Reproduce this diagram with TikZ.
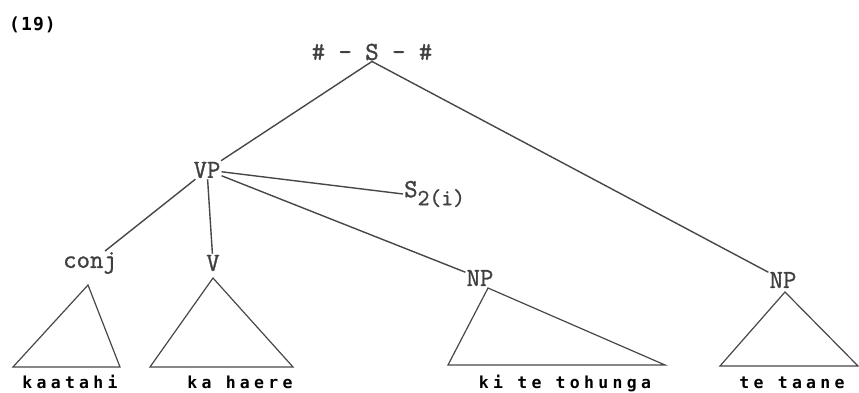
\documentclass[tikz,border=0pt]{standalone}
\usepackage{fontspec}
\usepackage{tikz}
\newfontfamily\catfont[FakeBold=1.2]{Latin Modern Mono}
\newfontfamily\wordfont[LetterSpace=26]{DejaVu Sans Mono}
\newfontfamily\numfont[LetterSpace=6]{DejaVu Sans Mono}

\begin{document}
\begin{tikzpicture}[x=1pt, y=-1pt,
  cat/.style={inner sep=1pt, text=black!75, font=\catfont\fontsize{26}{26}\selectfont},
  word/.style={inner sep=0pt, anchor=base, font=\wordfont\bfseries\fontsize{16.5}{17}\selectfont},
  branch/.style={line width=1.4pt, black!72},
  tri/.style={line width=1.2pt, black!72}]
  \useasboundingbox (0,0) rectangle (859,393);

  % Example number
  \node[anchor=base west, inner sep=0pt, font=\numfont\bfseries\fontsize{18}{18}\selectfont] (num) at (9,31) {(19)};

  % Categories
  \node[cat] (S) at (372,52) {\# - S - \#};
  \node[cat] (VP) at (207,170) {VP};
  \node[cat, anchor=west] (S2) at (403,194) {S\raisebox{-8pt}{\fontsize{23}{23}\selectfont 2(i)}};
  \node[cat] (conj) at (90,263) {conj};
  \node[cat] (V) at (213,263) {V};
  \node[cat] (NPa) at (480,278) {NP};
  \node[cat] (NPb) at (783,280) {NP};

  % Branches
  \draw[branch] (S.south) -- (VP);
  \draw[branch] (S.south) -- (NPb);
  \draw[branch] (VP) -- (conj);
  \draw[branch] (VP) -- (V);
  \draw[branch] (VP) -- (NPa);
  \draw[branch] (VP) -- (S2.west);

  % Triangles
  \coordinate (conjtop) at (88,285);
  \coordinate (Vtop) at (213,278);
  \coordinate (NPatop) at (488,288);
  \coordinate (NPbtop) at (785,292);
  \draw[tri] (conjtop) -- (13,367) -- (120,367) -- cycle;
  \draw[tri] (Vtop) -- (150,367) -- (293,367) -- cycle;
  \draw[tri] (NPatop) -- (448,365) -- (665,365) -- cycle;
  \draw[tri] (NPbtop) -- (720,366) -- (858,366) -- cycle;

  % Words
  \node[word] (w1) at (70,388) {kaatahi};
  \node[word] (w2) at (240,388) {ka haere};
  \node[word] (w3) at (565,388) {ki te tohunga};
  \node[word] (w4) at (792,388) {te taane};
\end{tikzpicture}
\end{document}
